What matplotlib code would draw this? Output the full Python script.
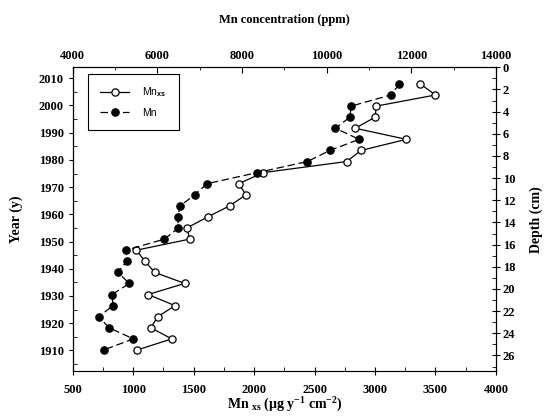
import matplotlib
matplotlib.use("Agg")
import matplotlib.pyplot as plt
from matplotlib.ticker import MultipleLocator

plt.rcParams["font.family"] = "Liberation Serif"
plt.rcParams["font.weight"] = "bold"
plt.rcParams["mathtext.fontset"] = "custom"
plt.rcParams["mathtext.rm"] = "Liberation Serif:bold"
plt.rcParams["mathtext.bf"] = "Liberation Serif:bold"
plt.rcParams["mathtext.it"] = "Liberation Serif:bold"
plt.rcParams["mathtext.sf"] = "Liberation Sans"

# depth of each slice (cm)
depth = [1.5, 2.5, 3.5, 4.5, 5.5, 6.5, 7.5, 8.5, 9.5, 10.5, 11.5, 12.5, 13.5,
         14.5, 15.5, 16.5, 17.5, 18.5, 19.5, 20.5, 21.5, 22.5, 23.5, 24.5, 25.5]

# excess Mn flux (ug y-1 cm-2), bottom axis
mn_xs = [3375, 3499, 3011, 3000, 2837, 3259, 2884, 2766, 2076, 1873, 1933, 1798,
         1616, 1443, 1468, 1026, 1098, 1178, 1426, 1123, 1346, 1203, 1145, 1319, 1034]

# Mn concentration (ppm), top axis
mn_ppm = [11721, 11517, 10579, 10548, 10208, 10768, 10075, 9546, 8357, 7175, 6884,
          6537, 6482, 6497, 6166, 5260, 5277, 5064, 5338, 4929, 4953, 4615, 4858,
          5433, 4733]

year_ticks = [1910, 1920, 1930, 1940, 1950, 1960, 1970, 1980, 1990, 2000, 2010]


def depth_to_year(d):
    return 2014.03 - 4.073 * d


def year_to_depth(y):
    return (2014.03 - y) / 4.073


fig = plt.figure(figsize=(5.45, 4.17), dpi=100)
ax = fig.add_axes([0.1334, 0.1103, 0.7766, 0.7283])

l1, = ax.plot(mn_xs, depth, "-", color="black", linewidth=0.9,
              marker="o", markersize=5.2, markerfacecolor="white",
              markeredgecolor="black", markeredgewidth=0.9,
              label=r"Mn$_{\mathsf{xs}}$")
ax.set_xlim(500, 4000)
ax.set_ylim(27.4, 0)
ax.xaxis.set_major_locator(MultipleLocator(500))
ax.xaxis.set_minor_locator(MultipleLocator(250))
ax.yaxis.set_major_locator(MultipleLocator(2))
ax.yaxis.set_minor_locator(MultipleLocator(1))
ax.yaxis.tick_right()
ax.yaxis.set_label_position("right")
ax.tick_params(axis="x", which="major", direction="inout", length=6, labelsize=9,
               pad=6)
ax.tick_params(axis="x", which="minor", direction="in", length=3)
ax.tick_params(axis="y", which="major", direction="inout", length=6, labelsize=9,
               pad=2)
ax.tick_params(axis="y", which="minor", direction="in", length=3)
ax.set_xlabel(r"Mn $_{\mathregular{xs}}$ ($\mathregular{\mu}$g y$^{\mathregular{-1}}$ cm$^{\mathregular{-2}}$)",
              fontsize=10, fontweight="bold", labelpad=0.5)
ax.set_ylabel("Depth (cm)", fontsize=10, fontweight="bold", rotation=90,
              labelpad=10)

# top axis - Mn concentration
ax_top = ax.twiny()
l2, = ax_top.plot(mn_ppm, depth, color="black", linewidth=0.9,
                  linestyle=(0, (6, 3)), marker="o", markersize=5.2,
                  markerfacecolor="black", markeredgecolor="black",
                  label="Mn")
ax_top.set_xlim(4000, 14000)
ax_top.xaxis.set_major_locator(MultipleLocator(2000))
ax_top.xaxis.set_minor_locator(MultipleLocator(1000))
ax_top.tick_params(axis="x", which="major", direction="in", length=4, labelsize=9,
                   pad=4)
ax_top.tick_params(axis="x", which="minor", direction="in", length=2.5)
ax_top.set_xlabel("Mn concentration (ppm)", fontsize=9, fontweight="bold",
                  labelpad=19)

# left axis - year
sec = ax.secondary_yaxis("left", functions=(depth_to_year, year_to_depth))
sec.set_yticks(year_ticks)
sec.yaxis.set_minor_locator(MultipleLocator(5))
sec.tick_params(axis="y", which="major", direction="out", length=3, labelsize=9)
sec.tick_params(axis="y", which="minor", direction="in", length=3)
sec.set_ylabel("Year (y)", fontsize=10, fontweight="bold", labelpad=11)

for s in ["bottom", "left"]:
    ax.spines[s].set_color("#555555")
sec.spines["left"].set_color("#555555")

leg = ax_top.legend(handles=[l1, l2], loc="upper left",
                    bbox_to_anchor=(0.0366, 0.978), borderaxespad=0,
                    fancybox=False, edgecolor="black", framealpha=1,
                    borderpad=1.15, handlelength=2.8, handletextpad=1.25,
                    labelspacing=0.8,
                    prop={"family": "Liberation Sans", "size": 7.5,
                          "weight": "normal"})
leg.get_frame().set_linewidth(0.8)

fig.savefig("out.png", dpi=100)
